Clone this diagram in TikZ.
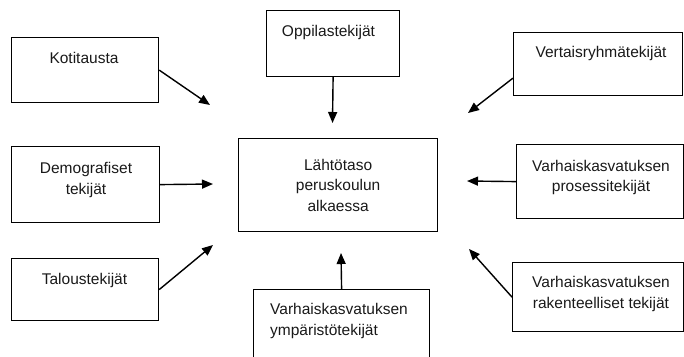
\documentclass[tikz,border=0pt]{standalone}
\usepackage{fontspec}
\setmainfont{Liberation Sans}
\usetikzlibrary{arrows.meta}
\begin{document}
\begin{tikzpicture}[x=1pt,y=-1pt,
	box/.style={draw,line width=1.2pt,inner sep=0pt,anchor=north west},
	lbl/.style={align=center,inner sep=0pt,text=black!90,font=\fontsize{15.5pt}{20.5pt}\selectfont},
	arr/.style={line width=1.4pt,-{Triangle[length=11pt,width=9pt]}}]
			\useasboundingbox (0,0) rectangle (684,356);
			\clip (0,0) rectangle (684,356);
			\node[box,minimum width=147pt,minimum height=65pt] (koti) at (11,37) {};
			\node[box,minimum width=148pt,minimum height=76pt] (demo) at (11,146) {};
			\node[box,minimum width=147pt,minimum height=62pt] (talous) at (11,258) {};
			\node[box,minimum width=133pt,minimum height=66pt] (oppi) at (266,10) {};
			\node[box,lbl,minimum width=199pt,minimum height=93pt] (lahto) at (238,138) {Lähtötaso\\peruskoulun\\alkaessa};
			\node[box,minimum width=169pt,minimum height=63pt] (vert) at (513,32) {};
			\node[box,minimum width=167pt,minimum height=74pt] (proses) at (516,144) {};
			\node[box,minimum width=171pt,minimum height=69pt] (rak) at (512,262) {};
			\node[box,minimum width=176pt,minimum height=80pt] (ymp) at (253,289) {};
			\node[lbl] (kotit) at (84,58) {Kotitausta};
			\node[lbl] (demot) at (86,180) {Demografiset\\tekijät};
			\node[lbl] (taloust) at (84.5,280) {Taloustekijät};
			\node[lbl] (oppit) at (328.5,32) {Oppilastekijät};
			\node[lbl] (vertt) at (601,53) {Vertaisryhmätekijät};
			\node[lbl] (prosest) at (601,177.5) {Varhaiskasvatuksen\\prosessitekijät};
			\node[lbl] (rakt) at (601,294) {Varhaiskasvatuksen\\rakenteelliset tekijät};
			\node[lbl,align=left,anchor=west] (ympt) at (270,321) {Varhaiskasvatuksen\\ympäristötekijät};
			\path (210,105)coordinate(kotip) (213,184)coordinate(demop) (213,245)coordinate(talousp)
				(332.5,123)coordinate(oppip) (468,113)coordinate(vertp) (467,181)coordinate(prosesp)
				(469,249)coordinate(rakp) (341,253)coordinate(ympp);
			\draw[arr] (koti.east)--(kotip);
			\draw[arr] (demo.east)--(demop);
			\draw[arr] (talous.east)--(talousp);
			\draw[arr] (oppi.south)--(oppip);
			\draw[arr] ([yshift=-14pt]vert.west)--(vertp);
			\draw[arr] (proses.west)--(prosesp);
			\draw[arr] (rak.west)--(rakp);
			\draw[arr] (ymp.north)--(ympp);
	\end{tikzpicture}
\end{document}
